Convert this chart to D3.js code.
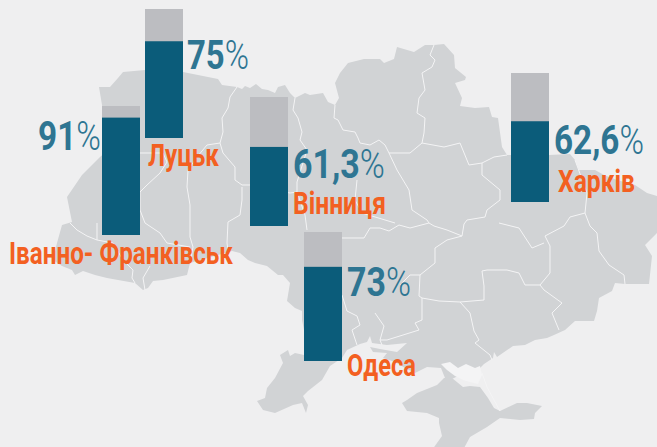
<!DOCTYPE html>
<html>
<head>
<meta charset="utf-8">
<script src="https://cdn.jsdelivr.net/npm/d3@7"></script>
<style>
  html, body { margin: 0; padding: 0; background: #efeff0; }
  svg { display: block; }
  text { font-family: "Roboto", "Liberation Sans", sans-serif; }
</style>
</head>
<body>
<svg id="chart" width="657" height="447"></svg>
<script>
// Chart data
const cities = ["Іванно- Франківськ", "Луцьк", "Вінниця", "Одеса", "Харків"];
const shares = [91, 75, 61.3, 73, 62.6];
const shareMax = 100;

// Base map, in map units
const mainland = [[99,87],[110,87],[118,78],[123,72],[145,70],[183,72],[203,76],[218,79],[222,85],[237,87],[242,89],[245,86],[250,88],[256,84],[262,89],[268,90],[275,93],[278,87],[285,85],[290,93],[295,98],[305,93],[310,95],[323,93],[328,102],[335,105],[339,98],[335,83],[340,73],[348,63],[364,59],[380,59],[384,63],[394,59],[397,47],[414,52],[425,45],[434,45],[444,44],[454,55],[455,68],[466,77],[465,80],[455,83],[462,98],[460,106],[475,108],[489,107],[492,117],[498,118],[502,147],[507,155],[549,155],[570,154],[575,160],[579,170],[595,170],[604,175],[617,180],[635,185],[647,193],[660,197],[660,233],[657,233],[645,245],[652,256],[649,284],[625,284],[615,283],[612,291],[599,298],[597,311],[594,321],[575,321],[565,330],[554,335],[547,338],[535,340],[525,345],[513,346],[497,357],[494,352],[493,358],[484,364],[478,370],[470,372],[460,375],[450,380],[445,378],[441,368],[427,367],[415,373],[405,368],[395,362],[383,358],[387,353],[373,352],[370,347],[380,349],[397,352],[407,343],[387,345],[372,343],[370,336],[367,342],[360,344],[347,350],[342,358],[330,366],[322,380],[308,391],[303,396],[308,405],[306,413],[302,403],[293,405],[275,413],[263,410],[257,401],[265,398],[267,388],[275,378],[283,363],[280,355],[288,350],[290,356],[295,353],[304,355],[304,330],[302,320],[302,311],[295,308],[287,301],[290,283],[283,275],[278,275],[267,266],[255,263],[248,260],[240,253],[232,251],[190,263],[187,275],[163,280],[153,281],[148,288],[143,290],[135,283],[118,280],[107,278],[95,275],[83,271],[75,275],[72,270],[62,266],[53,260],[57,243],[62,225],[72,222],[67,197],[82,175],[100,157],[108,150],[102,105]];
const crimea = [[402,403],[407,400],[417,393],[437,385],[444,378],[452,378],[463,387],[470,386],[480,387],[488,398],[494,408],[500,411],[517,403],[527,403],[542,406],[535,413],[534,419],[520,420],[500,418],[487,427],[470,437],[463,450],[432,450],[442,436],[439,423],[439,418],[427,413],[407,411]];
const sivash = [[441,364],[450,362],[458,368],[466,364],[475,368],[480,366],[482,375],[478,384],[470,382],[463,380],[455,376],[447,370]];
const borders = [
  [[237,87],[230,97],[228,108],[222,118],[223,132],[220,143],[207,145],[197,157],[188,170],[187,187],[190,205],[190,237],[193,247],[190,263]],
  [[220,143],[223,153],[235,167],[235,180],[242,185],[250,185],[290,193],[297,192]],
  [[140,153],[163,153],[167,162],[160,173],[147,185],[140,192],[140,210],[145,223],[160,233],[167,243],[190,247]],
  [[242,187],[242,200],[240,215],[228,222],[227,243],[228,250]],
  [[70,223],[77,230],[87,236],[97,240],[97,223]],
  [[97,240],[113,243],[123,260],[133,270],[132,278],[135,283]],
  [[150,266],[143,278],[145,290]],
  [[295,98],[293,110],[298,118],[302,132],[300,140],[307,150],[297,182],[297,192],[305,215],[307,230]],
  [[335,105],[334,118],[338,120],[343,130],[355,132],[358,138],[360,143],[370,145],[379,140],[385,145],[389,153]],
  [[434,45],[430,55],[435,60],[432,67],[422,73],[425,90],[419,98],[417,113],[425,118],[424,133],[422,143],[410,153],[399,153],[389,153]],
  [[422,143],[444,147],[460,143],[469,165],[482,163],[494,157],[507,155]],
  [[482,163],[482,175],[500,190],[500,200],[487,210],[485,217],[467,220],[464,224],[462,236],[447,230],[434,226],[429,223],[427,220],[412,210],[409,190],[397,170],[389,153]],
  [[462,236],[447,240],[435,248],[435,263],[420,275],[419,296],[422,298],[439,301],[460,302],[484,300],[484,286],[482,271],[487,270],[507,270],[519,273],[525,285],[540,285],[550,273],[550,246],[545,236],[564,226],[570,217],[585,213],[587,193],[575,160]],
  [[585,213],[590,226],[597,233],[599,251],[609,265],[624,275],[625,284]],
  [[540,285],[544,290],[562,303],[552,313],[559,330]],
  [[460,302],[470,313],[474,331],[479,340],[475,343],[490,355],[492,360]],
  [[422,298],[422,320],[415,323],[419,330],[387,340],[380,340]],
  [[375,313],[384,326],[380,340],[382,345]],
  [[342,295],[347,311],[357,316],[360,325],[352,330],[357,345]],
  [[342,238],[364,238],[370,228],[380,228],[389,231],[399,225],[410,228],[429,223]],
  [[420,275],[410,275],[400,285]],
  [[357,180],[355,200],[362,213],[395,223]],
  [[499,223],[519,228],[532,248],[544,243]],
  [[482,373],[487,387],[494,400],[500,411]],
  [[452,368],[458,374],[468,372],[474,378]],
  [[462,366],[470,374],[478,376]]
];

// Layout, one anchor per city, same order as cities
const barSlots = [
  { x: 102, bottom: 235 }, { x: 145, bottom: 138 }, { x: 250, bottom: 226 },
  { x: 304, bottom: 361 }, { x: 511, bottom: 202 }
];
const shareLabels = [
  { x: 38, y: 150, w: 63 }, { x: 187, y: 69, w: 62 }, { x: 293, y: 178, w: 92 },
  { x: 347, y: 296, w: 64 }, { x: 554, y: 154, w: 90 }
];
const nameLabels = [
  { x: 9, y: 264, w: 224 }, { x: 148, y: 166, w: 71 }, { x: 293, y: 214, w: 93 },
  { x: 347, y: 376, w: 69 }, { x: 558, y: 192, w: 77 }
];

const barWidth = 38;
const barHeight = 129;

const colors = {
  background: "#efeff0",
  land: "#d1d3d5",
  border: "#f4f4f5",
  track: "#bcbdc1",
  bar: "#0b5c7a",
  share: "#2e7592",
  name: "#f36021"
};

const svg = d3.select("#chart");

svg.append("rect")
  .attr("width", 657)
  .attr("height", 447)
  .attr("fill", colors.background);

// Map
const mapPath = d3.geoPath(d3.geoIdentity());
const closeRing = ring => [...ring, ring[0]];

const map = svg.append("g");

map.selectAll("path.land")
  .data([
    { ring: mainland, fill: colors.land },
    { ring: crimea, fill: colors.land },
    { ring: sivash, fill: colors.border }
  ])
  .join("path")
  .attr("class", "land")
  .attr("d", d => mapPath({ type: "Polygon", coordinates: [closeRing(d.ring)] }))
  .attr("fill", d => d.fill);

map.append("path")
  .attr("d", mapPath({ type: "MultiLineString", coordinates: borders }))
  .attr("fill", "none")
  .attr("stroke", colors.border)
  .attr("stroke-width", 1)
  .attr("stroke-linejoin", "round");

// Bars
const height = d3.scaleLinear().domain([0, shareMax]).range([0, barHeight]);

const rows = cities.map((city, i) => ({
  city,
  share: shares[i],
  slot: barSlots[i],
  shareLabel: shareLabels[i],
  nameLabel: nameLabels[i]
}));

svg.selectAll("rect.track")
  .data(rows)
  .join("rect")
  .attr("class", "track")
  .attr("x", d => d.slot.x)
  .attr("y", d => d.slot.bottom - height(shareMax))
  .attr("width", barWidth)
  .attr("height", height(shareMax))
  .attr("fill", colors.track);

svg.selectAll("rect.value")
  .data(rows)
  .join("rect")
  .attr("class", "value")
  .attr("x", d => d.slot.x)
  .attr("y", d => d.slot.bottom - height(d.share))
  .attr("width", barWidth)
  .attr("height", d => height(d.share))
  .attr("fill", colors.bar);

// The reference font is narrower than anything installed, so squeeze the text to its width
function fitWidth(selection, label) {
  selection.attr("transform", function (d) {
    const box = label(d);
    return `translate(${box.x}, ${box.y}) scale(${box.w / this.getComputedTextLength()}, 1)`;
  });
}

// Percent labels, the number is heavy and the sign is thin
const shareText = svg.selectAll("text.share")
  .data(rows)
  .join("text")
  .attr("class", "share")
  .attr("font-size", 41)
  .attr("fill", colors.share);

shareText.append("tspan")
  .attr("font-weight", "bold")
  .text(d => String(d.share).replace(".", ","));

shareText.append("tspan")
  .attr("font-weight", 300)
  .text("%");

shareText.call(fitWidth, d => d.shareLabel);

// City names
svg.selectAll("text.name")
  .data(rows)
  .join("text")
  .attr("class", "name")
  .attr("font-size", 31)
  .attr("font-weight", "bold")
  .attr("fill", colors.name)
  .text(d => d.city)
  .call(fitWidth, d => d.nameLabel);
</script>
</body>
</html>
